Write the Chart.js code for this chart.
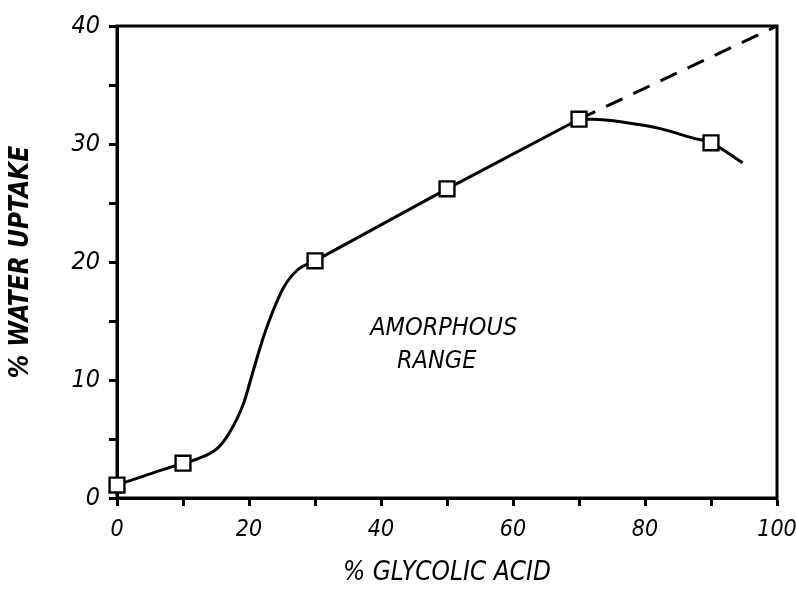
<!DOCTYPE html>
<html>
<head>
<meta charset="utf-8">
<script src="https://cdn.jsdelivr.net/npm/chart.js@4/dist/chart.umd.min.js"></script>
<style>
  html, body { margin: 0; padding: 0; background: #fff; }
  #wrap { width: 796px; height: 589px; }
</style>
</head>
<body>
<div id="wrap"><canvas id="c" width="796" height="589"></canvas></div>
<script>
// Measured points (% glycolic acid vs % water uptake)
const measuredX = [0, 10, 30, 50, 70, 90];
const measuredY = [1.1, 2.95, 20.1, 26.2, 32.1, 30.1];

// Hand-drawn fitted curve
const lowCurveX = [0, 10, 12.1, 15.2, 17.1, 19.1, 20.6, 22.1, 23.6, 25.2, 27.3, 30];
const lowCurveY = [1.1, 2.95, 3.3, 4.2, 5.6, 7.9, 10.7, 13.5, 15.8, 17.8, 19.3, 20.1];
const midLineX = [30, 50, 70];
const midLineY = [20.1, 26.2, 32.1];
const highCurveX = [70, 72.1, 77.3, 82.3, 87.3, 90, 94.8];
const highCurveY = [32.1, 32.1, 31.8, 31.3, 30.5, 30.1, 28.4];

// Dashed extrapolation
const dashX = [70, 100];
const dashY = [32.1, 40];

// Axis labels
const xTitle = '% GLYCOLIC ACID';
const yTitle = '% WATER UPTAKE';
const noteLines = ['AMORPHOUS', 'RANGE'];

const zip = (xs, ys) => xs.map((x, i) => ({ x: x, y: ys[i] }));
const FONT = '"Liberation Sans Narrow", "DejaVu Sans Condensed", "Roboto Condensed", sans-serif';

const framePlugin = {
  id: 'frame',
  beforeDatasetsDraw(chart) {
    const { ctx, chartArea: a } = chart;
    ctx.save();
    ctx.strokeStyle = '#000';
    ctx.lineWidth = 3;
    ctx.strokeRect(a.left, a.top, a.right - a.left, a.bottom - a.top);
    ctx.restore();
  }
};

const notePlugin = {
  id: 'note',
  afterDatasetsDraw(chart) {
    const { ctx, scales } = chart;
    ctx.save();
    ctx.fillStyle = '#000';
    ctx.font = 'italic 25px ' + FONT;
    ctx.textAlign = 'center';
    ctx.textBaseline = 'middle';
    const x = scales.x.getPixelForValue(49.5);
    ctx.fillText(noteLines[0], x, scales.y.getPixelForValue(14.4));
    ctx.fillText(noteLines[1], x - 7, scales.y.getPixelForValue(11.6));
    ctx.restore();
  }
};

const lineStyle = {
  type: 'line',
  borderColor: '#000',
  borderWidth: 3,
  pointRadius: 0,
  fill: false,
  clip: false,
  order: 2
};

new Chart(document.getElementById('c'), {
  type: 'line',
  data: {
    datasets: [
      {
        type: 'scatter',
        data: zip(measuredX, measuredY),
        pointStyle: 'rect',
        pointRadius: 10.5,
        pointBackgroundColor: '#fff',
        pointBorderColor: '#000',
        pointBorderWidth: 2.4,
        showLine: false,
        clip: false,
        order: 0
      },
      Object.assign({}, lineStyle, { data: zip(lowCurveX, lowCurveY), cubicInterpolationMode: 'monotone' }),
      Object.assign({}, lineStyle, { data: zip(midLineX, midLineY), tension: 0 }),
      Object.assign({}, lineStyle, { data: zip(highCurveX, highCurveY), cubicInterpolationMode: 'monotone' }),
      Object.assign({}, lineStyle, { data: zip(dashX, dashY), tension: 0, borderDash: [18, 12] })
    ]
  },
  options: {
    responsive: false,
    animation: false,
    layout: { autoPadding: false, padding: { top: 26, right: 19, left: 0, bottom: 0 } },
    plugins: { legend: { display: false }, tooltip: { enabled: false } },
    scales: {
      x: {
        type: 'linear',
        min: 0, max: 100,
        afterFit(s) { s.height = 91; s.paddingLeft = 0; s.paddingRight = 0; },
        border: { display: true, color: '#000', width: 3 },
        grid: { display: true, drawOnChartArea: false, drawTicks: true, tickLength: 8, tickWidth: 3, tickColor: '#000' },
        ticks: {
          stepSize: 10,
          autoSkip: false,
          maxRotation: 0,
          padding: 10,
          color: '#000',
          font: { family: FONT, size: 23, style: 'italic' },
          callback: v => (v % 20 === 0 ? String(v) : '')
        },
        title: {
          display: true,
          text: xTitle,
          color: '#000',
          padding: { top: 0, bottom: 0 },
          font: { family: FONT, size: 26, style: 'italic' }
        }
      },
      y: {
        type: 'linear',
        min: 0, max: 40,
        afterFit(s) { s.width = 117; s.paddingTop = 0; s.paddingBottom = 0; },
        border: { display: true, color: '#000', width: 3 },
        grid: { display: true, drawOnChartArea: false, drawTicks: true, tickLength: 8, tickWidth: 3, tickColor: '#000' },
        ticks: {
          stepSize: 5,
          autoSkip: false,
          padding: 9,
          color: '#000',
          font: { family: FONT, size: 25, style: 'italic' },
          callback: v => (v % 10 === 0 ? String(v) : '')
        },
        title: {
          display: true,
          text: yTitle,
          color: '#000',
          padding: { top: 6, bottom: 0 },
          font: { family: FONT, size: 26, style: 'italic', weight: 'bold' }
        }
      }
    }
  },
  plugins: [framePlugin, notePlugin]
});
</script>
</body>
</html>
